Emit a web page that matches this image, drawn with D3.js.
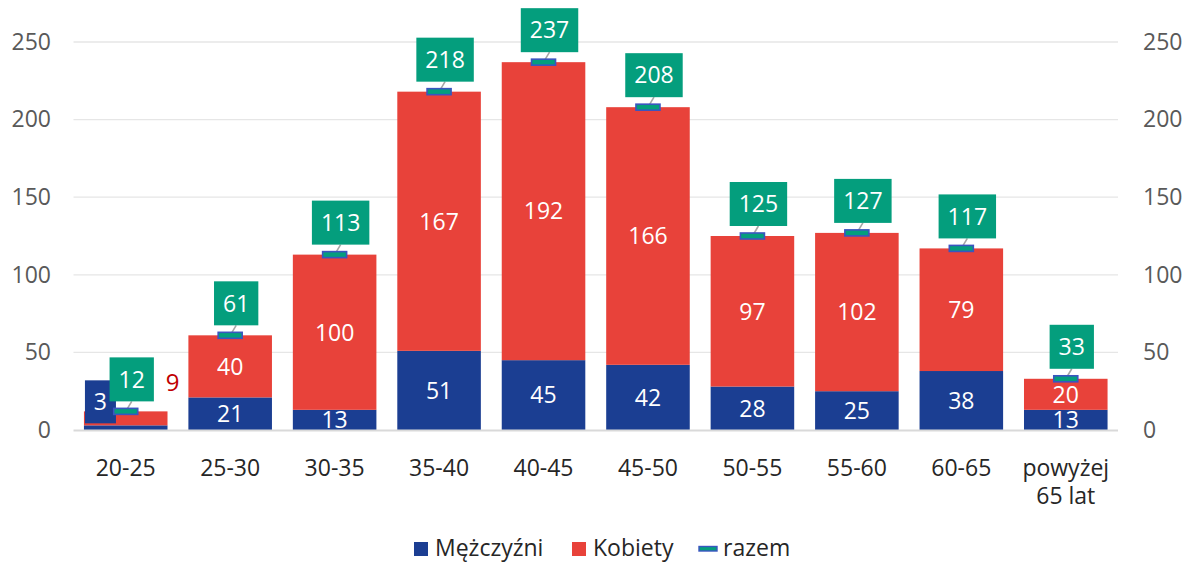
<!DOCTYPE html>
<html><head><meta charset="utf-8">
<script src="https://cdn.jsdelivr.net/npm/d3@7"></script>
<style>
html,body{margin:0;padding:0;background:#fff;}
svg{display:block;font-family:"Open Sans",Lato,sans-serif;}
</style></head>
<body>
<svg id="chart" width="1189" height="563"></svg>
<script>
const categories = ["20-25","25-30","30-35","35-40","40-45","45-50","50-55","55-60","60-65","powyżej 65 lat"];
const men = [3,21,13,51,45,42,28,25,38,13];
const women = [9,40,100,167,192,166,97,102,79,20];
const totals = [12,61,113,218,237,208,125,127,117,33];
const yTicks = [0,50,100,150,200,250];
const seriesNames = ["Mężczyźni","Kobiety","razem"];

const C_BLUE = "#1b3e92", C_RED = "#e8423a", C_GREEN = "#049e7d", C_MARK = "#3a55c0";
const FS = 23;

const svg = d3.select("#chart");
const x = d3.scaleBand().domain(categories).range([73.5,1118]).paddingInner(0.2).paddingOuter(0.1);
const y = d3.scaleLinear().domain([0,250]).range([430,42]);

// gridlines
svg.append("g").selectAll("line").data(yTicks.filter(t=>t>0)).join("line")
  .attr("x1",73.5).attr("x2",1118).attr("y1",d=>y(d)).attr("y2",d=>y(d))
  .attr("stroke","#e6e6e6").attr("stroke-width",1.3);

// axes labels
const axL = svg.append("g").attr("transform","translate(73,0)").call(d3.axisLeft(y).tickValues(yTicks).tickSize(0).tickPadding(22));
const axR = svg.append("g").attr("transform","translate(1118,0)").call(d3.axisRight(y).tickValues(yTicks).tickSize(0).tickPadding(25));
[axL,axR].forEach(a=>{a.select(".domain").remove();a.selectAll("text").attr("font-size",FS).attr("fill","#595959").attr("font-family","'Open Sans',sans-serif");});

// stacked bars
const stackData = categories.map((c,i)=>({cat:c, men:men[i], women:women[i]}));
const stack = d3.stack().keys(["men","women"])(stackData);
const colors = {men:C_BLUE, women:C_RED};
const barsG = svg.append("g");
stack.forEach(s=>{
  barsG.append("g").selectAll("rect").data(s).join("rect")
    .attr("x",d=>x(d.data.cat)).attr("width",x.bandwidth())
    .attr("y",d=>y(d[1])).attr("height",d=>y(d[0])-y(d[1]))
    .attr("fill",colors[s.key]);
});

// baseline
svg.append("line").attr("x1",73.5).attr("x2",1118).attr("y1",y(0)+0.5).attr("y2",y(0)+0.5)
  .attr("stroke","#d9d9d9").attr("stroke-width",2);

// clip for in-bar labels
svg.append("clipPath").attr("id","plotclip").append("rect").attr("x",70).attr("y",0).attr("width",1060).attr("height",y(0));

// in-bar labels (except first category, handled specially)
const lblG = svg.append("g").attr("clip-path","url(#plotclip)");
stack.forEach(s=>{
  lblG.append("g").selectAll("text").data(s.filter((d,i)=>i>0)).join("text")
    .attr("x",d=>x(d.data.cat)+x.bandwidth()/2)
    .attr("y",d=>y((d[0]+d[1])/2))
    .attr("dy","0.36em").attr("text-anchor","middle")
    .attr("font-size",FS).attr("fill","#fff")
    .text(d=>d[1]-d[0]);
});

// special labels for first category
{
  const c = categories[0], bx = x(c);
  const g = svg.append("g");
  g.append("rect").attr("x",bx+1).attr("y",y(32)).attr("width",31).attr("height",43).attr("fill",C_BLUE);
  g.append("text").attr("x",bx+16.5).attr("y",y(32)+21.5).attr("dy","0.36em").attr("text-anchor","middle")
    .attr("font-size",FS).attr("fill","#fff").text(men[0]);
  g.append("text").attr("x",bx+x.bandwidth()+5).attr("y",y(31)).attr("dy","0.36em").attr("text-anchor","middle")
    .attr("font-size",24).attr("fill","#c00000").text(women[0]);
}

// total markers + callouts
const totG = svg.append("g");
categories.forEach((c,i)=>{
  const cx = x(c)+x.bandwidth()/2, ty = y(totals[i]);
  const g = totG.append("g");
  const t = g.append("text").attr("font-size",FS).attr("fill","#fff").attr("text-anchor","middle").text(totals[i]);
  const tw = t.node().getComputedTextLength();
  const bw = tw+18, bh = 44;
  const bcx = cx+6, bbot = ty-10;
  g.insert("line","text").attr("x1",cx).attr("y1",ty).attr("x2",bcx).attr("y2",bbot)
    .attr("stroke","#a6a6a6").attr("stroke-width",1.6);
  g.insert("rect","text").attr("x",bcx-bw/2).attr("y",bbot-bh).attr("width",bw).attr("height",bh).attr("fill",C_GREEN);
  t.attr("x",bcx).attr("y",bbot-bh/2).attr("dy","0.36em");
  g.append("rect").attr("x",cx-12).attr("y",ty-3).attr("width",24).attr("height",6)
    .attr("fill",C_GREEN).attr("stroke",C_MARK).attr("stroke-width",1.6);
});

// category labels
const catG = svg.append("g");
categories.forEach(c=>{
  const cx = x(c)+x.bandwidth()/2;
  const words = c==="powyżej 65 lat" ? ["powyżej","65 lat"] : [c];
  words.forEach((w,k)=>{
    catG.append("text").attr("x",cx).attr("y",476+k*28).attr("text-anchor","middle")
      .attr("font-size",FS).attr("fill","#262626").text(w);
  });
});

// legend
const leg = svg.append("g");
const lx = [414,572,699];
leg.append("rect").attr("x",lx[0]).attr("y",542).attr("width",14).attr("height",14).attr("fill",C_BLUE);
leg.append("text").attr("x",lx[0]+21).attr("y",556).attr("font-size",FS).attr("fill","#262626").text(seriesNames[0]);
leg.append("rect").attr("x",lx[1]).attr("y",542).attr("width",14).attr("height",14).attr("fill",C_RED);
leg.append("text").attr("x",lx[1]+21).attr("y",556).attr("font-size",FS).attr("fill","#262626").text(seriesNames[1]);
leg.append("rect").attr("x",lx[2]).attr("y",546.5).attr("width",18).attr("height",4.5).attr("fill",C_GREEN).attr("stroke",C_MARK).attr("stroke-width",1.4);
leg.append("text").attr("x",lx[2]+24).attr("y",556).attr("font-size",FS).attr("fill","#262626").text(seriesNames[2]);
</script>
</body></html>
